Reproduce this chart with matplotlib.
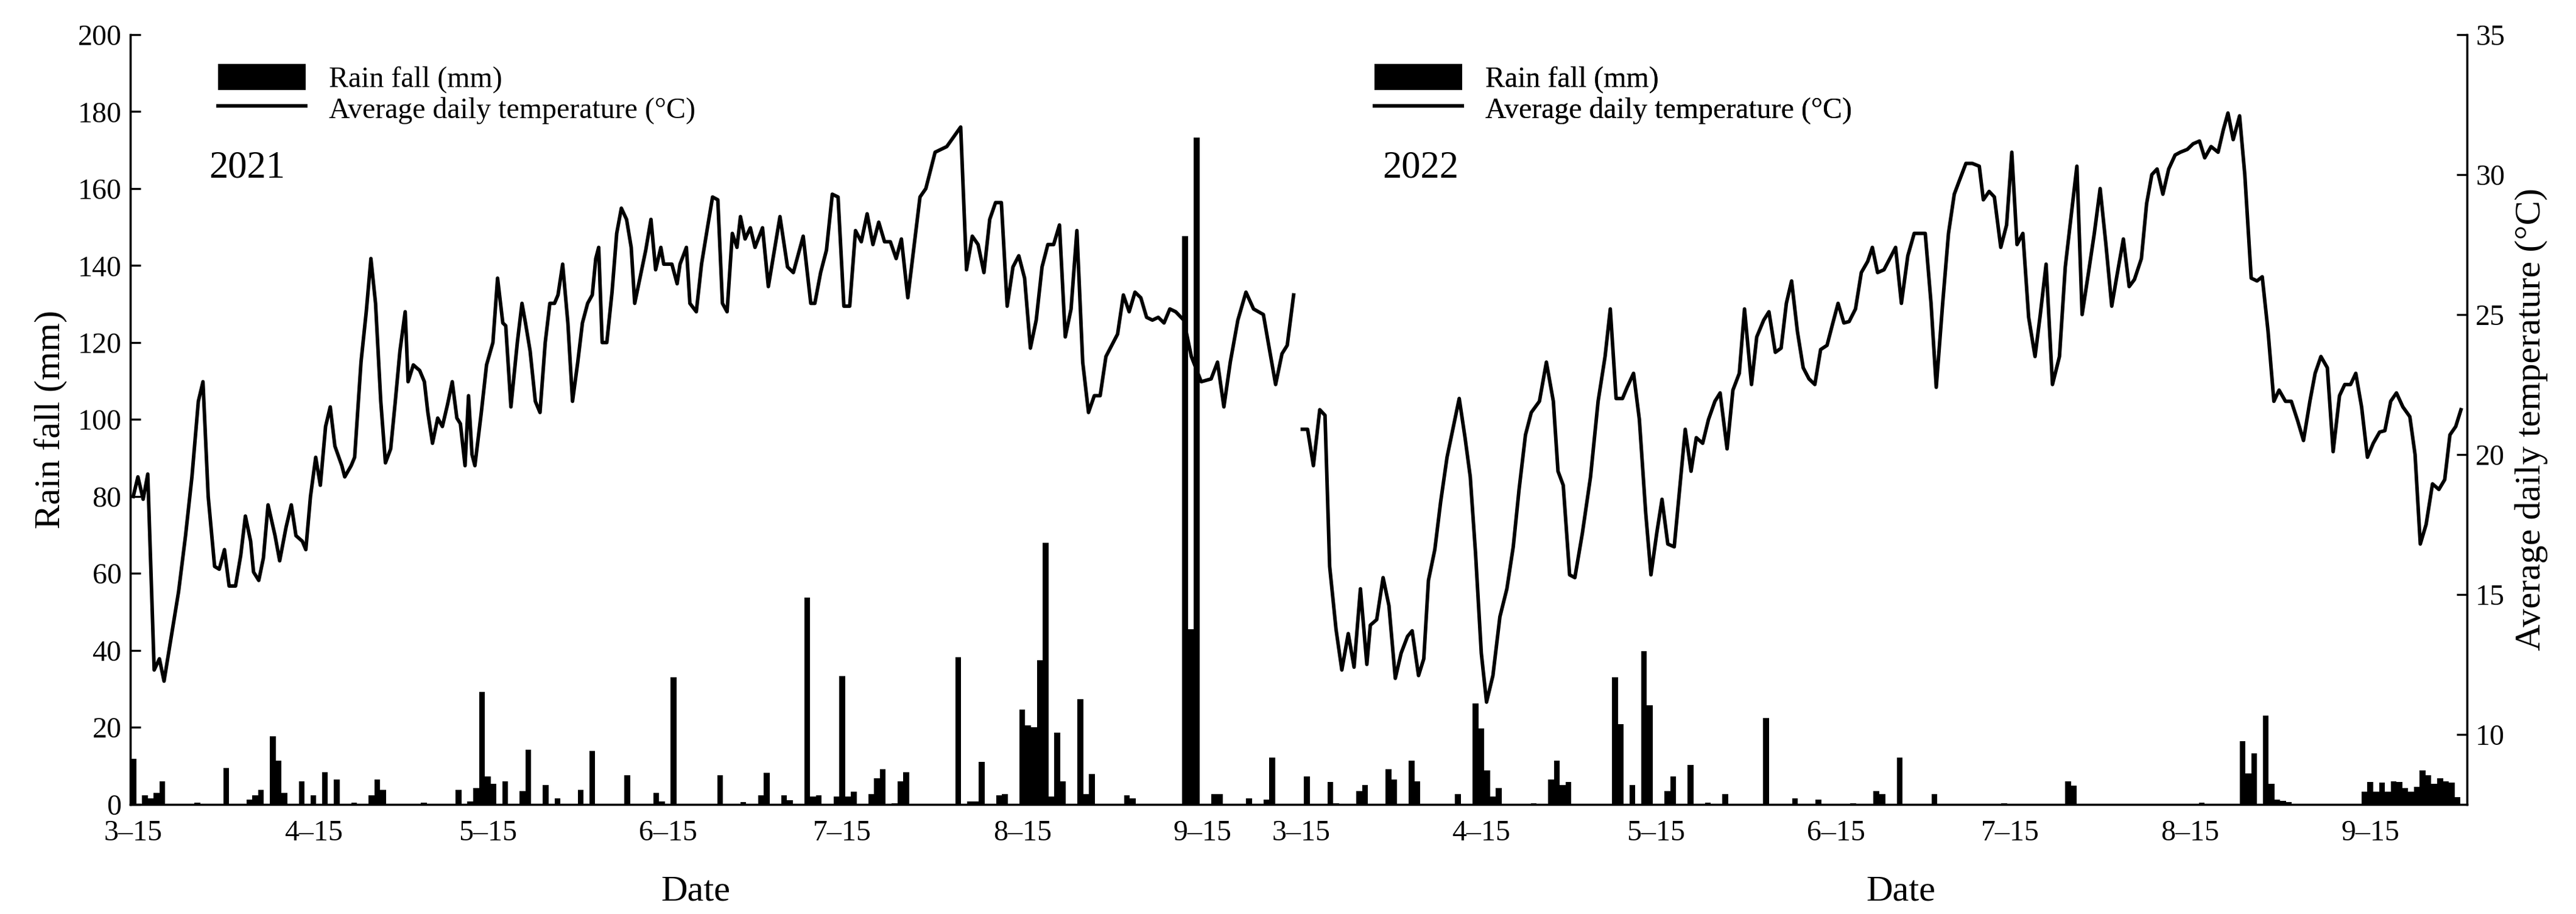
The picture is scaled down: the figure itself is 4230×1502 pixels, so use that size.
import numpy as np
import matplotlib.pyplot as plt

plt.rcParams['font.family'] = ['Liberation Serif', 'DejaVu Serif']

# 2022 season starts this many days after 2021-03-15 on the shared axis
offset_2022 = 201

tick_days = [0, 31, 61, 92, 122, 153, 184]
tick_labels = ['3\u201315', '4\u201315', '5\u201315', '6\u201315', '7\u201315', '8\u201315', '9\u201315']

# average daily temperature, days since 3-15
temp_days_2021 = [0, 0.8, 1.7, 2.5, 3.6, 4.5, 5.3, 6.7, 7.8, 9.0, 10.1, 11.2, 12.0, 12.9, 14.0, 14.8, 15.7,
                  16.5, 17.6, 18.5, 19.3, 20.2, 20.7, 21.6, 22.4, 23.2, 24.4, 25.2, 26.3, 27.2, 28.0, 29.1,
                  29.7, 30.5, 31.4, 32.2, 33.1, 33.9, 34.7, 35.9, 36.4, 37.5, 38.1, 39.2, 40.1, 40.9, 41.7,
                  42.6, 43.4, 44.3, 45.1, 45.9, 46.8, 47.3, 48.2, 49.3, 50.1, 50.7, 51.5, 52.4, 53.2, 54.1,
                  54.9, 55.7, 56.3, 57.1, 57.7, 58.3, 58.8, 59.9, 60.8, 61.9, 62.7, 63.6, 64.1, 65.0, 66.1,
                  66.9, 67.5, 68.3, 69.2, 70.0, 70.9, 71.7, 72.5, 73.1, 73.9, 74.8, 75.6, 76.5, 77.3, 78.2,
                  79.0, 79.6, 80.1, 80.7, 81.5, 82.4, 83.2, 84.0, 84.9, 85.7, 86.3, 87.1, 88.2, 89.1, 89.9,
                  90.8, 91.3, 92.7, 93.6, 94.1, 95.2, 95.8, 96.9, 97.8, 98.9, 99.7, 100.6, 101.4, 102.2,
                  103.1, 103.9, 104.5, 105.3, 106.2, 107.0, 108.3, 109.3, 111.3, 112.6, 113.6, 115.3, 116.6,
                  117.3, 118.3, 119.3, 120.3, 121.3, 122.3, 123.3, 124.3, 125.3, 126.3, 127.3, 128.3, 129.3,
                  130.3, 131.3, 132.2, 133.3, 135.4, 136.4, 138.0, 140.0, 142.4, 143.4, 144.4, 145.4, 146.4,
                  147.4, 148.4, 149.4, 150.4, 151.4, 152.4, 153.4, 154.4, 155.4, 156.4, 157.4, 158.4, 159.4,
                  160.4, 161.4, 162.4, 163.4, 164.4, 165.4, 166.4, 167.4, 168.4, 169.4, 170.4, 171.4, 172.4,
                  173.4, 174.4, 175.4, 176.4, 177.4, 178.4, 179.4, 180.8, 182.1, 183.8, 185.5, 186.6, 187.7,
                  188.8, 190.1, 191.5, 192.8, 194.5, 195.5, 196.6, 197.7, 198.6, 199.7]
temp_2021 = [18.5, 19.2, 18.4, 19.3, 12.3, 12.7, 11.9, 13.7, 15.1, 17.1, 19.2, 21.9, 22.6, 18.5, 16.0, 15.9, 16.6,
             15.3, 15.3, 16.4, 17.8, 16.9, 15.8, 15.5, 16.3, 18.2, 17.1, 16.2, 17.4, 18.2, 17.1, 16.9,
             16.6, 18.5, 19.9, 18.9, 21.0, 21.7, 20.3, 19.6, 19.2, 19.6, 19.9, 23.3, 25.1, 27.0, 25.4,
             21.9, 19.7, 20.2, 21.9, 23.7, 25.1, 22.6, 23.2, 23.0, 22.6, 21.5, 20.4, 21.3, 21.0, 21.8,
             22.6, 21.3, 21.1, 19.6, 22.1, 20.0, 19.6, 21.5, 23.2, 24.0, 26.3, 24.7, 24.6, 21.7, 24.0,
             25.4, 24.7, 23.7, 21.9, 21.5, 24.0, 25.4, 25.4, 25.7, 26.8, 24.7, 21.9, 23.3, 24.7, 25.4,
             25.7, 27.0, 27.4, 24.0, 24.0, 25.8, 27.9, 28.8, 28.4, 27.4, 25.4, 26.2, 27.3, 28.4, 26.6,
             27.4, 26.8, 26.8, 26.1, 26.8, 27.4, 25.4, 25.1, 26.8, 28.2, 29.2, 29.1, 25.4, 25.1,
             27.9, 27.4, 28.5, 27.7, 28.1, 27.4, 28.1, 26.0, 28.5, 26.7, 26.5, 27.8, 25.4,
             25.4, 26.5, 27.3, 29.3, 29.2, 25.3, 25.3, 28.0, 27.6, 28.6, 27.5, 28.3, 27.6,
             27.6, 27.0, 27.7, 25.6, 29.2, 29.5, 30.8, 31.0, 31.7, 26.6, 27.8, 27.5, 26.5,
             28.4, 29.0, 29.0, 25.3, 26.7, 27.1, 26.3, 23.8, 24.8, 26.7, 27.5, 27.5, 28.2,
             24.2, 25.2, 28.0, 23.3, 21.5, 22.1, 22.1, 23.5, 23.9, 24.3, 25.7, 25.1, 25.8,
             25.6, 24.9, 24.8, 24.9, 24.7, 25.2, 25.1, 24.8, 23.5, 22.6, 22.7, 23.3, 21.7,
             23.3, 24.8, 25.8, 25.2, 25.0, 23.8, 22.5, 23.6, 23.9, 25.7]

temp_days_2022 = [0.2, 1.1, 2.1, 3.2, 4.1, 4.9, 6.0, 7.0, 8.1, 9.1, 10.2, 11.3, 11.9, 13.0, 14.1, 15.1, 16.2,
                  17.2, 18.3, 19.1, 20.2, 21.1, 21.9, 23.0, 24.0, 25.1, 26.0, 27.2, 28.2, 29.1, 30.0, 31.0,
                  31.9, 33.0, 34.2, 35.4, 36.5, 37.5, 38.6, 39.6, 41.0, 42.2, 43.4, 44.2, 45.1, 46.2, 47.1,
                  48.4, 49.8, 51.1, 52.3, 53.2, 54.2, 55.3, 56.1, 57.2, 58.2, 59.3, 60.2, 61.2, 62.1, 63.1,
                  64.2, 65.2, 66.1, 67.1, 68.0, 69.1, 70.1, 71.2, 72.1, 73.3, 74.3, 75.4, 76.3, 77.5, 78.4,
                  79.6, 80.5, 81.6, 82.6, 83.5, 84.4, 85.4, 86.4, 87.4, 88.4, 89.4, 90.5, 91.5, 92.4, 93.4,
                  94.3, 95.4, 96.4, 97.5, 98.3, 99.2, 100.3, 101.3, 102.3, 103.3, 104.4, 105.5, 106.5,
                  107.4, 108.4, 109.3, 110.4, 111.4, 112.4, 113.3, 114.4, 115.5, 116.7, 117.4, 118.4, 119.3,
                  120.4, 121.4, 122.3, 123.2, 124.2, 125.2, 126.3, 127.2, 128.2, 129.3, 130.5, 131.5, 132.5,
                  133.5, 134.4, 135.5, 136.5, 137.5, 138.5, 139.5, 140.4, 141.5, 142.5, 143.4, 144.6, 145.5,
                  146.4, 147.3, 148.3, 149.3, 150.4, 151.3, 152.5, 153.5, 154.6, 155.5, 156.6, 157.8, 158.7,
                  159.5, 160.4, 161.5, 162.4, 163.5, 164.5, 165.4, 166.4, 167.4, 168.3, 169.4, 170.4, 171.5,
                  172.5, 173.6, 174.5, 175.5, 176.6, 177.6, 178.7, 179.6, 180.6, 181.5, 182.5, 183.5, 184.5,
                  185.6, 186.5, 187.5, 188.5, 189.6, 190.8, 191.7, 192.6, 193.6, 194.7, 195.8, 196.8, 197.7,
                  198.7, 199.6]
temp_2022 = [20.9, 20.9, 19.6, 21.6, 21.4, 16.0, 13.75, 12.3, 13.6, 12.4, 15.2, 12.5, 13.9, 14.1, 15.6, 14.6, 12.0,
             12.9, 13.5, 13.7, 12.1, 12.7, 15.5, 16.6, 18.3, 19.9, 20.8, 22.0, 20.6, 19.2, 16.5, 12.9,
             11.15, 12.1, 14.2, 15.2, 16.7, 18.75, 20.7, 21.5, 21.9, 23.3, 21.9, 19.4, 18.9, 15.7, 15.6,
             17.2, 19.2, 21.9, 23.5, 25.2, 22.0, 22.0, 22.4, 22.9, 21.25, 17.9, 15.7, 17.2, 18.4, 16.8,
             16.7, 18.9, 20.9, 19.4, 20.6, 20.4, 21.25, 21.9, 22.2, 20.2, 22.3, 22.9, 25.2, 22.5, 24.2,
             24.8, 25.1, 23.65, 23.8, 25.4, 26.2, 24.4, 23.1, 22.7, 22.5, 23.75, 23.9, 24.7, 25.4, 24.7,
             24.75, 25.2, 26.5, 26.9, 27.4, 26.5, 26.6, 27.0, 27.4, 25.4, 27.1, 27.9, 27.9,
             27.9, 25.4, 22.4, 25.4, 27.9, 29.3, 29.8, 30.4, 30.4, 30.3, 29.1, 29.4, 29.2,
             27.4, 28.2, 30.8, 27.5, 27.9, 24.9, 23.5, 25.0, 26.8, 22.5, 23.5, 26.7, 28.5,
             30.3, 25.0, 26.5, 27.9, 29.5, 27.5, 25.3, 26.4, 27.7, 26.0, 26.25, 27.0, 28.96,
             30.0, 30.2, 29.3, 30.2, 30.7, 30.8, 30.9, 31.1, 31.2, 30.6, 31.0, 30.8, 31.6,
             32.2, 31.25, 32.1, 30.0, 26.3, 26.2, 26.35, 24.4, 21.9, 22.3, 21.9, 21.9, 21.2,
             20.5, 21.9, 22.9, 23.5, 23.1, 20.1, 22.1, 22.5, 22.5, 22.9, 21.7, 19.9, 20.4,
             20.8, 20.85, 21.9, 22.2, 21.7, 21.35, 20.0, 16.8, 17.5, 18.95, 18.75, 19.1, 20.7,
             21.0, 21.6]

# daily rainfall (mm), days since 3-15
rain_days_2021 = [0, 2, 3, 4, 5, 11, 16, 20, 21, 22, 24, 25, 26, 29, 31, 33, 35, 38, 41, 42, 43, 50, 56, 58,
                  59, 60, 61, 62, 64, 67, 68, 71, 73, 77, 79, 85, 90, 91, 93, 101, 105, 108, 109, 112, 113,
                  116, 117, 118, 121, 122, 123, 124, 127, 128, 129, 131, 132, 133, 142, 144, 145, 146, 149,
                  150, 153, 154, 155, 156, 157, 158, 159, 160, 163, 164, 165, 171, 172, 181, 182, 183, 186,
                  187, 192, 195, 196]
rain_2021 = [11.8, 2.3, 1.5, 3, 6, 0.5, 9.5, 1.2, 2.3, 3.8, 17.7, 11.4, 3, 6, 2.3, 8.3, 6.4, 0.5, 2.3, 6.5, 3.8,
             0.5, 3.8, 0.8, 4.2, 29.2, 7.3, 5.3, 6, 3.5, 14.2, 5, 1.5, 3.8, 13.9, 7.6, 3, 0.8, 33, 7.6, 0.6,
             2.3, 8.2, 2.3, 1, 53.8, 2, 2.3, 2, 33.3, 2, 3.3, 2.7, 6.8, 9.1, 0.3, 6, 8.3, 38.3, 0.8, 0.8,
             11, 2.3, 2.7, 24.7, 20.5, 20, 37.4, 67.9, 2, 18.6, 6, 27.3, 2.7, 7.9, 2.3, 1.5, 147.7, 45.5,
             173.2, 2.7, 2.7, 1.5, 1.2, 12.1]

rain_days_2022 = [1, 5, 6, 10, 11, 15, 16, 19, 20, 27, 30, 31, 32, 33, 34, 40, 43, 44, 45, 46, 54, 55, 57, 59,
                  60, 63, 64, 67, 70, 73, 80, 85, 89, 95, 99, 100, 103, 109, 121, 132, 133, 155, 162, 163,
                  164, 166, 167, 168, 169, 170, 183, 184, 185, 186, 187, 188, 189, 190, 191, 192, 193, 194,
                  195, 196, 197, 198, 199]
rain_2022 = [7.3, 5.8, 0.3, 3.5, 5, 9.1, 6.4, 11.4, 6, 2.7, 26.2, 19.7, 8.8, 2, 4.2, 0.3, 6.5, 11.4, 5, 5.8,
             33, 20.9, 5, 39.8, 25.8, 3.5, 7.3, 10.2, 0.5, 2.7, 22.4, 1.5, 1.2, 0.3, 3.5, 2.7, 12.1, 2.7,
             0.3, 6, 4.8, 0.5, 16.4, 8, 13.3, 23, 5.3, 1.2, 0.9, 0.6, 3.3, 5.8, 3.3, 5.6, 3.3, 6, 5.8, 4.2,
             3.3, 4.5, 8.8, 7.6, 5.3, 6.8, 6, 5.6, 1.8]

fig = plt.figure(figsize=(14.1, 5.007), dpi=300)
ax = fig.add_axes([0.0506, 0.12, 0.907, 0.842])
ax2 = ax.twinx()

d21 = np.array(rain_days_2021)
d22 = np.array(rain_days_2022) + offset_2022
ax.bar(d21, rain_2021, width=1.0, color='black', label='Rain fall (mm)')
ax.bar(d22, rain_2022, width=1.0, color='black')

ax2.plot(temp_days_2021, temp_2021, color='black', lw=1.4, label='Average daily temperature (\u00b0C)')
ax2.plot(np.array(temp_days_2022) + offset_2022, temp_2022, color='black', lw=1.4)

ax.set_xlim(-0.5, 401.6)
ax.set_ylim(0, 200)
ax.set_yticks(np.arange(0, 201, 20))
ax2.set_ylim(7.5, 35)
ax2.set_yticks([10, 15, 20, 25, 30, 35])

xt = tick_days + [t + offset_2022 for t in tick_days]
ax.set_xticks(xt)
ax.set_xticklabels(tick_labels * 2)

for a in (ax, ax2):
    a.spines['top'].set_visible(False)
    a.tick_params(direction='in', labelsize=11.5, length=4, width=0.8)
ax.tick_params(axis='x', length=0, pad=6)

ax.set_ylabel('Rain fall (mm)', fontsize=14.5)
ax2.set_ylabel('Average daily temperature (\u00b0C)', fontsize=14.5)
fig.text(0.27, 0.015, 'Date', fontsize=14.5, ha='center')
fig.text(0.738, 0.015, 'Date', fontsize=14.5, ha='center')

ax.text(13, 163, '2021', fontsize=15)
ax.text(215, 163, '2022', fontsize=15)

# legends for each season panel
for xa in (0.03, 0.525):
    h1, l1 = ax.get_legend_handles_labels()
    h2, l2 = ax2.get_legend_handles_labels()
    leg = ax.legend(h1 + h2, l1 + l2, loc='upper left', bbox_to_anchor=(xa, 0.985),
                    frameon=False, fontsize=11.5, handlelength=3.0, handleheight=1.0,
                    labelspacing=0.05, borderaxespad=0.2)
    ax.add_artist(leg)

fig.savefig('out.png', dpi=300)
